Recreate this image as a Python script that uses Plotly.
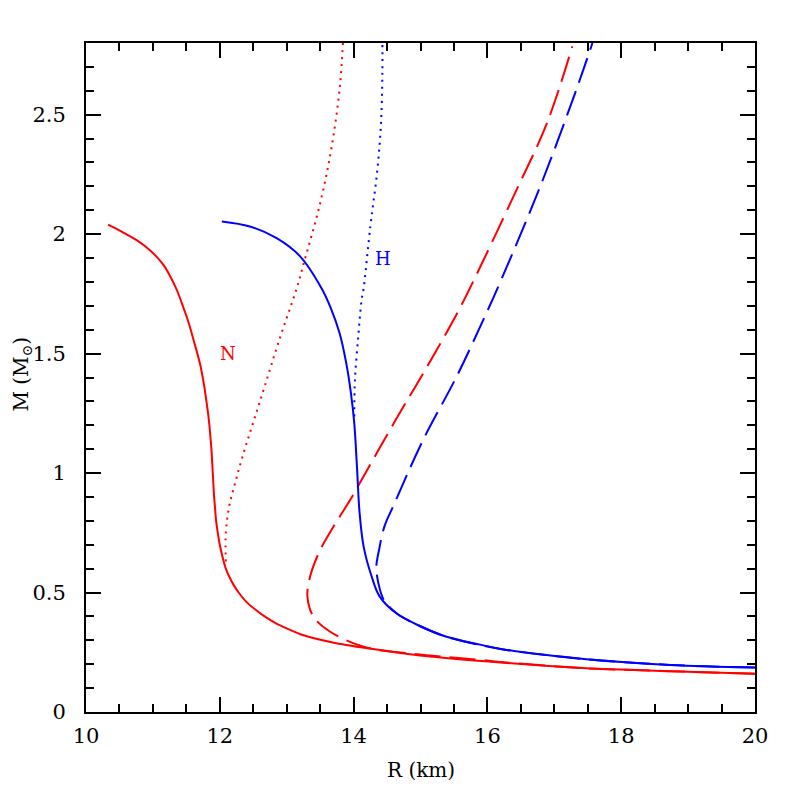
import plotly.graph_objects as go

# Red solid (N)
n_solid_M = [2.04, 2.02, 2.00, 1.976, 1.95, 1.907, 1.87, 1.823, 1.78, 1.74, 1.697, 1.65, 1.60, 1.55, 1.50,
             1.45, 1.40, 1.35, 1.30, 1.25, 1.20, 1.15, 1.10, 1.05, 1.00, 0.95, 0.90, 0.85, 0.80, 0.75,
             0.70, 0.65, 0.60, 0.567, 0.53, 0.497, 0.46, 0.427, 0.40, 0.371, 0.35, 0.322, 0.288, 0.236,
             0.206, 0.183, 0.171, 0.160]
n_solid_R = [10.33, 10.47, 10.60, 10.75, 10.88, 11.05, 11.16, 11.26, 11.335, 11.395, 11.45, 11.51, 11.565,
             11.615, 11.665, 11.71, 11.745, 11.775, 11.80, 11.825, 11.845, 11.86, 11.875, 11.885, 11.895,
             11.905, 11.915, 11.93, 11.945, 11.97, 12.00, 12.04, 12.09, 12.14, 12.21, 12.29, 12.40, 12.54,
             12.67, 12.84, 13.00, 13.24, 13.74, 14.99, 16.24, 17.48, 18.73, 20.0]
# Red dotted
n_dot_R = [12.09, 12.09, 12.14, 12.24, 12.37, 12.52, 12.67, 12.88, 13.15, 13.27, 13.45, 13.60, 13.72, 13.80, 13.84]
n_dot_M = [0.63, 0.75, 0.86, 0.97, 1.097, 1.23, 1.362, 1.55, 1.774, 1.893, 2.074, 2.256, 2.451, 2.633, 2.80]
# Red dashed
n_dash_R = [20.0, 18.73, 17.48, 16.24, 15.89, 14.89, 14.15, 13.65, 13.40, 13.31, 13.35, 13.50, 13.70,
            13.95, 14.05, 14.63, 15.10, 15.55, 15.80, 16.39, 16.89, 17.27]
n_dash_M = [0.160, 0.171, 0.183, 0.208, 0.218, 0.243, 0.273, 0.336, 0.399, 0.483, 0.567, 0.678, 0.776,
            0.888, 0.937, 1.223, 1.446, 1.670, 1.809, 2.158, 2.465, 2.786]

# Blue solid (H)
h_solid_R = [12.03, 12.45, 12.85, 13.20, 13.52, 13.65, 13.79, 13.89, 13.96, 14.01, 14.05, 14.09, 14.15,
             14.27, 14.39, 14.64, 14.99, 15.39, 15.89, 16.24, 17.48, 18.73, 20.0]
h_solid_M = [2.053, 2.032, 1.983, 1.907, 1.774, 1.697, 1.586, 1.460, 1.335, 1.209, 1.027, 0.832, 0.692,
             0.567, 0.483, 0.413, 0.360, 0.315, 0.282, 0.262, 0.221, 0.197, 0.186]
# Blue dotted
h_dot_R = [14.01, 14.02, 14.07, 14.12, 14.15, 14.25, 14.35, 14.41, 14.43, 14.43]
h_dot_M = [1.237, 1.39, 1.572, 1.725, 1.774, 2.032, 2.256, 2.465, 2.675, 2.80]
# Blue dashed
h_dash_R = [20.0, 18.73, 17.48, 16.24, 15.39, 14.99, 14.64, 14.45, 14.37, 14.34, 14.38, 14.46, 14.59,
            15.04, 15.54, 15.94, 16.20, 16.79, 17.33, 17.57]
h_dash_M = [0.186, 0.197, 0.221, 0.262, 0.315, 0.360, 0.413, 0.47, 0.54, 0.608, 0.678, 0.776, 0.860,
            1.139, 1.404, 1.642, 1.805, 2.200, 2.605, 2.80]

RED = "#ff0000"
BLUE = "#0000ff"
FONT = "DejaVu Serif"

fig = go.Figure()
fig.add_trace(go.Scatter(x=n_dash_R, y=n_dash_M, mode="lines", line=dict(color=RED, width=2, dash="26px,9px", shape="spline")))
fig.add_trace(go.Scatter(x=h_dash_R, y=h_dash_M, mode="lines", line=dict(color=BLUE, width=2, dash="26px,9px", shape="spline")))
fig.add_trace(go.Scatter(x=n_dot_R, y=n_dot_M, mode="lines", line=dict(color=RED, width=2, dash="2px,5px", shape="spline")))
fig.add_trace(go.Scatter(x=h_dot_R, y=h_dot_M, mode="lines", line=dict(color=BLUE, width=2, dash="2px,5px", shape="spline")))
fig.add_trace(go.Scatter(x=n_solid_R, y=n_solid_M, mode="lines", line=dict(color=RED, width=2, shape="spline", smoothing=0.6)))
fig.add_trace(go.Scatter(x=h_solid_R, y=h_solid_M, mode="lines", line=dict(color=BLUE, width=2, shape="spline")))

fig.add_annotation(x=12.12, y=1.5, text="N", showarrow=False, font=dict(color=RED, size=18, family=FONT))
fig.add_annotation(x=14.44, y=1.9, text="H", showarrow=False, font=dict(color=BLUE, size=18, family=FONT))

# axis titles
fig.add_annotation(xref="paper", yref="paper", x=0.5, y=-0.087, text="R (km)", showarrow=False,
                   xanchor="center", yanchor="middle", font=dict(size=20, family=FONT, color="black"))
fig.add_annotation(xref="paper", yref="paper", x=-0.095, y=0.505, text="M (M<sub>⊙</sub>)", showarrow=False,
                   textangle=-90, xanchor="center", yanchor="middle", font=dict(size=20, family=FONT, color="black"))

axis_common = dict(showline=True, linecolor="black", linewidth=2, mirror="allticks", ticks="inside",
                   tickcolor="black", tickwidth=2, showgrid=False, zeroline=False, automargin=False,
                   tickfont=dict(size=21, family=FONT, color="black"))
fig.update_xaxes(range=[10, 20], dtick=2, tick0=10, ticklen=15, ticklabelstandoff=4,
                 minor=dict(dtick=0.5, ticks="inside", ticklen=8, tickcolor="black", tickwidth=2, showgrid=False),
                 **axis_common)
fig.update_yaxes(range=[0, 2.8], dtick=0.5, tick0=0, ticklen=15, ticklabelstandoff=14,
                 minor=dict(dtick=0.1, ticks="inside", ticklen=8, tickcolor="black", tickwidth=2, showgrid=False),
                 **axis_common)
fig.update_layout(width=789, height=789, showlegend=False, plot_bgcolor="white", paper_bgcolor="white",
                  margin=dict(l=78, r=42, t=35, b=85))
fig.write_html("out.html")
